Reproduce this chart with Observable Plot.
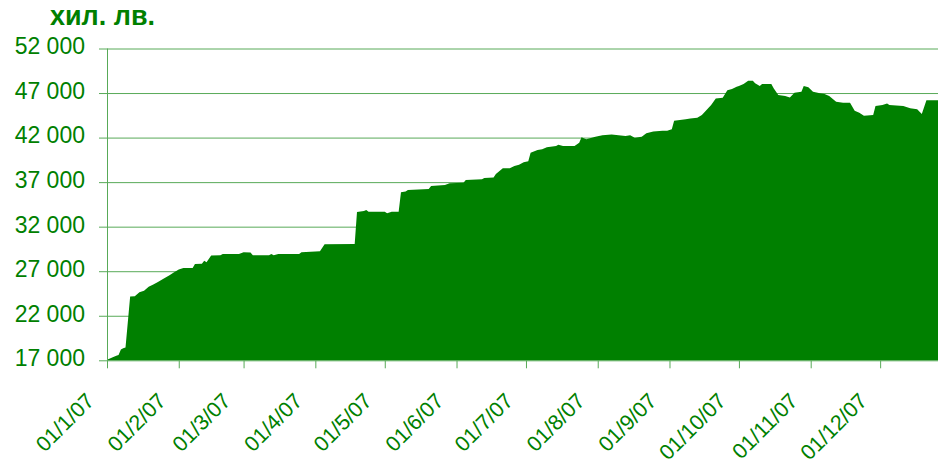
<!DOCTYPE html>
<html>
<head>
<meta charset="utf-8">
<script src="https://cdn.jsdelivr.net/npm/d3@7"></script>
<script src="https://cdn.jsdelivr.net/npm/@observablehq/plot@0.6"></script>
<style>
  html, body { margin: 0; padding: 0; background: #ffffff; }
  #title {
    height: 36px; box-sizing: border-box; padding: 3px 0 0 50px;
    font: bold 27px/27px "Liberation Sans", Arial, sans-serif; color: #008000;
  }
  #chart svg { display: block; }
</style>
</head>
<body>
<div id="title">хил. лв.</div>
<div id="chart"></div>
<script>
const titleText = "хил. лв.";

const dates = [
  "2007-01-01","2007-01-03","2007-01-05","2007-01-06","2007-01-07","2007-01-08","2007-01-09","2007-01-11",
  "2007-01-13","2007-01-15","2007-01-17","2007-01-19","2007-01-21","2007-01-23","2007-01-25","2007-01-28",
  "2007-01-30","2007-02-01","2007-02-03","2007-02-07","2007-02-08","2007-02-11","2007-02-12","2007-02-13",
  "2007-02-15","2007-02-19","2007-02-20","2007-02-27","2007-03-01","2007-03-04","2007-03-05","2007-03-12",
  "2007-03-13","2007-03-14","2007-03-16","2007-03-25","2007-03-26","2007-04-03","2007-04-05","2007-04-18",
  "2007-04-19","2007-04-22","2007-04-23","2007-04-24","2007-05-01","2007-05-02","2007-05-04","2007-05-07",
  "2007-05-08","2007-05-10","2007-05-11","2007-05-20","2007-05-21","2007-05-27","2007-05-29","2007-06-04",
  "2007-06-05","2007-06-12","2007-06-13","2007-06-17","2007-06-18","2007-06-21","2007-06-24","2007-06-26",
  "2007-06-28","2007-06-30","2007-07-02","2007-07-03","2007-07-06","2007-07-08","2007-07-10","2007-07-14",
  "2007-07-15","2007-07-17","2007-07-22","2007-07-24","2007-07-25","2007-07-27","2007-07-31","2007-08-03",
  "2007-08-07","2007-08-09","2007-08-13","2007-08-15","2007-08-17","2007-08-20","2007-08-22","2007-08-25",
  "2007-08-29","2007-08-31","2007-09-02","2007-09-03","2007-09-08","2007-09-10","2007-09-13","2007-09-15",
  "2007-09-17","2007-09-19","2007-09-21","2007-09-24","2007-09-26","2007-09-28","2007-09-30","2007-10-01",
  "2007-10-03","2007-10-05","2007-10-07","2007-10-08","2007-10-10","2007-10-11","2007-10-15","2007-10-16",
  "2007-10-18","2007-10-21","2007-10-23","2007-10-25","2007-10-28","2007-10-29","2007-10-31","2007-11-02",
  "2007-11-05","2007-11-07","2007-11-09","2007-11-12","2007-11-15","2007-11-18","2007-11-19","2007-11-20",
  "2007-11-22","2007-11-24","2007-11-28","2007-11-29","2007-12-02","2007-12-04","2007-12-05","2007-12-11",
  "2007-12-14","2007-12-17","2007-12-19","2007-12-21","2007-12-26"
];

const values = [
  17050,17300,17500,17600,18200,18350,18450,24150,
  24200,24650,24800,25250,25500,25800,26100,26550,
  26880,27200,27350,27350,27800,27850,28180,28000,
  28750,28800,28930,28930,29120,29100,28790,28790,
  28930,28790,28930,28930,29120,29250,30020,30050,
  33650,33750,33870,33680,33680,33500,33680,33680,
  35860,35940,36120,36230,36570,36680,36870,36940,
  37240,37310,37460,37530,37910,38550,38550,38810,
  38950,39220,39350,40300,40600,40680,40910,41050,
  41200,41050,41050,41420,42050,41800,42100,42250,
  42360,42280,42170,42250,41990,42100,42480,42670,
  42780,42780,42930,43900,44050,44150,44230,44530,
  45090,45650,46400,46480,47300,47450,47710,47790,
  48010,48390,48390,48090,47790,48010,48010,47530,
  46770,46660,46510,47030,47140,47790,47640,47140,
  46970,46900,46660,46030,45920,45920,45470,45000,
  44790,44460,44530,45540,45650,45840,45650,45540,
  45280,45170,44640,46200,46200
];

const yTicks = [17000, 22000, 27000, 32000, 37000, 42000, 47000, 52000];
const yTickLabels = ["17 000", "22 000", "27 000", "32 000", "37 000", "42 000", "47 000", "52 000"];

const xTickDates = [
  "2007-01-01","2007-02-01","2007-03-01","2007-04-01","2007-05-01","2007-06-01",
  "2007-07-01","2007-08-01","2007-09-01","2007-10-01","2007-11-01","2007-12-01"
];
const xTickLabels = [
  "01/1/07","01/2/07","01/3/07","01/4/07","01/5/07","01/6/07",
  "01/7/07","01/8/07","01/9/07","01/10/07","01/11/07","01/12/07"
];

const data = dates.map((d, i) => ({date: new Date(d), value: values[i]}));
const xTicks = xTickDates.map(d => new Date(d));
const xLabelMap = new Map(xTicks.map((d, i) => [+d, xTickLabels[i]]));
const yLabelMap = new Map(yTicks.map((v, i) => [v, yTickLabels[i]]));

const GREEN = "#008000";
const GRID = "rgb(88,170,88)";
const FONT = "'Liberation Sans', Arial, sans-serif";

const chart = Plot.plot({
  width: 938,
  height: 428,
  marginLeft: 107,
  marginRight: 0,
  marginTop: 12.5,
  marginBottom: 103.7,
  style: {fontFamily: FONT, color: GREEN, background: "#ffffff", overflow: "visible"},
  x: {type: "utc", domain: [data[0].date, data[data.length - 1].date], axis: null},
  y: {domain: [yTicks[0], yTicks[yTicks.length - 1]], axis: null},
  marks: [
    Plot.gridY(yTicks, {stroke: GRID, strokeOpacity: 1, strokeWidth: 1}),
    Plot.areaY(data, {x: "date", y1: yTicks[0], y2: "value", fill: GREEN, curve: "linear"}),
    Plot.ruleX([data[0].date], {stroke: GRID, strokeWidth: 1}),
    Plot.axisY(yTicks, {tickSize: 8, stroke: GRID, strokeOpacity: 1, fill: "none", label: null}),
    Plot.axisY(yTicks, {
      tickSize: 8, tickPadding: 14.5, stroke: "none", fill: GREEN, fontSize: 23,
      tickFormat: v => yLabelMap.get(v), label: null, dy: -2
    }),
    Plot.axisX(xTicks, {tickSize: 8, stroke: GRID, strokeOpacity: 1, fill: "none", label: null}),
    Plot.axisX(xTicks, {
      tickSize: 8, tickPadding: 28.5, tickRotate: -45, stroke: "none", fill: GREEN, fontSize: 21.5,
      tickFormat: d => xLabelMap.get(+d), label: null, dx: -17
    })
  ]
});

document.getElementById("chart").appendChild(chart);
</script>
</body>
</html>
